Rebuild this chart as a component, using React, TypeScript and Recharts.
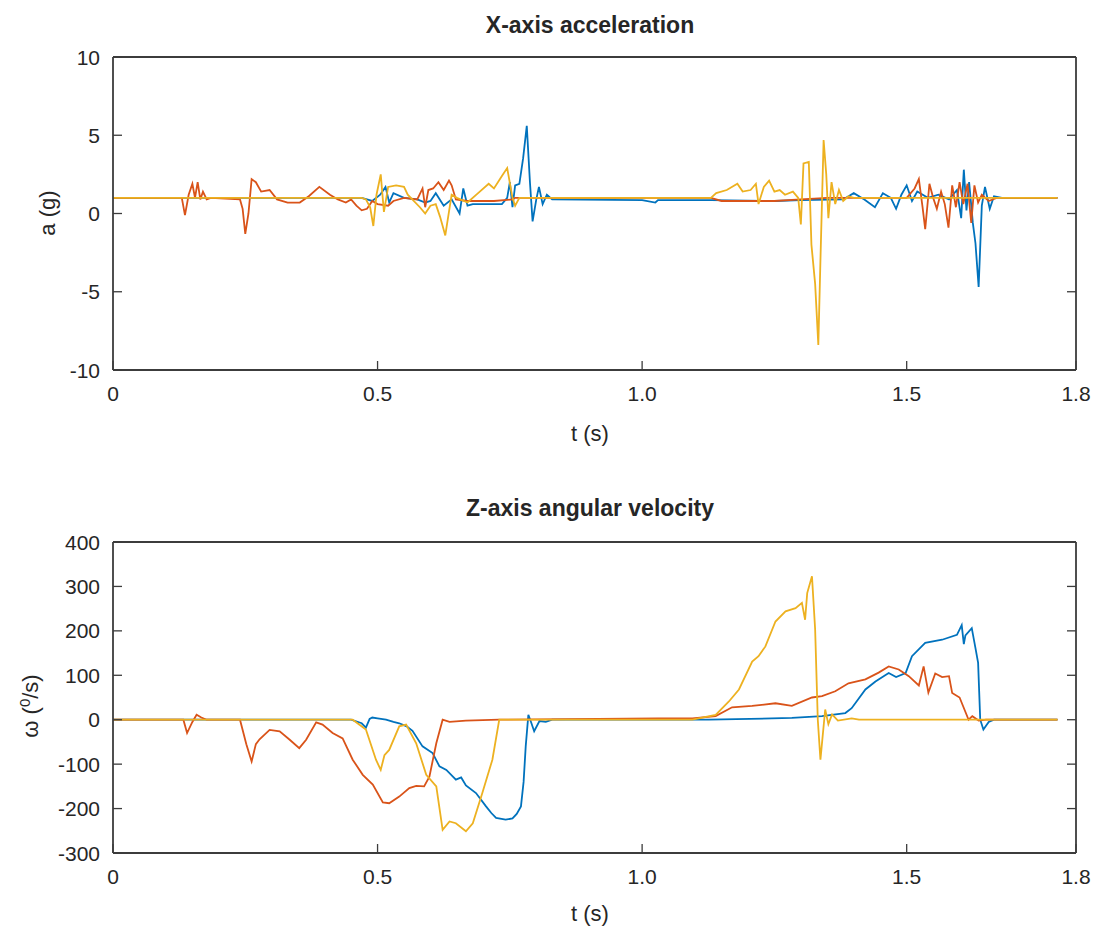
import React from 'react';
import { LineChart, Line, XAxis, YAxis } from 'recharts';

const BLUE = '#0072BD';
const ORANGE = '#D95319';
const YELLOW = '#EDB120';
const INK = '#262626';
const FRAME = '#3c3c3c';
const FONT = '"Liberation Sans", Arial, Helvetica, sans-serif';

// shared time axis
const timeTicks = [0, 0.5, 1.0, 1.5, 1.82];
const accTicks = [-10, -5, 0, 5, 10];
const gyroTicks = [-300, -200, -100, 0, 100, 200, 300, 400];

// X-axis acceleration, a (g)
const accBlueT = [0, 0.47, 0.49, 0.505, 0.515, 0.522, 0.53, 0.55, 0.575, 0.59, 0.6, 0.61, 0.625, 0.64, 0.655, 0.662, 0.67, 0.68, 0.7, 0.72, 0.735, 0.745, 0.75, 0.755, 0.76, 0.768, 0.775, 0.782, 0.788, 0.793, 0.8, 0.805, 0.812, 0.82, 0.83, 1.0, 1.025, 1.03, 1.13, 1.25, 1.3, 1.38, 1.4, 1.42, 1.44, 1.455, 1.47, 1.48, 1.49, 1.5, 1.51, 1.52, 1.54, 1.56, 1.58, 1.595, 1.603, 1.608, 1.613, 1.618, 1.625, 1.63, 1.636, 1.642, 1.648, 1.657, 1.665, 1.68, 1.785];
const accBlueV = [1.0, 1.0, 0.8, 1.2, 1.7, 0.7, 1.3, 1.0, 0.9, 0.7, 0.8, 1.3, 0.5, 0.9, 0.0, 1.6, 0.5, 0.6, 0.6, 0.6, 0.6, 1.0, 2.0, 0.4, 1.8, 1.9, 3.5, 5.6, 2.0, -0.5, 0.9, 1.7, 0.6, 1.2, 0.9, 0.85, 0.7, 0.85, 0.85, 0.8, 0.85, 0.9, 1.3, 0.9, 0.4, 1.3, 1.0, 0.3, 1.2, 1.8, 0.8, 1.4, 1.0, 1.2, 0.9, 1.5, -0.3, 2.8, 0.2, 2.0, -0.6, -1.9, -4.7, 0.5, 1.7, 0.3, 1.1, 1.0, 1.0];

const accOrangeT = [0, 0.13, 0.136, 0.143, 0.15, 0.155, 0.16, 0.165, 0.17, 0.177, 0.185, 0.24, 0.245, 0.25, 0.256, 0.262, 0.27, 0.28, 0.296, 0.31, 0.33, 0.353, 0.37, 0.39, 0.41, 0.425, 0.44, 0.45, 0.46, 0.47, 0.48, 0.49, 0.5, 0.52, 0.53, 0.55, 0.575, 0.585, 0.59, 0.596, 0.605, 0.615, 0.625, 0.635, 0.64, 0.648, 0.67, 0.72, 0.755, 0.76, 1.13, 1.15, 1.2, 1.25, 1.3, 1.35, 1.5, 1.515, 1.523, 1.53, 1.535, 1.543, 1.55, 1.557, 1.565, 1.572, 1.579, 1.586, 1.593, 1.6, 1.607, 1.615, 1.622, 1.628, 1.635, 1.642, 1.655, 1.67, 1.785];
const accOrangeV = [1.0, 1.0, -0.1, 1.2, 1.9, 1.0, 2.0, 0.9, 1.4, 0.9, 1.0, 0.9, 0.3, -1.3, 0.0, 2.2, 2.0, 1.4, 1.5, 0.9, 0.7, 0.7, 1.1, 1.7, 1.2, 0.9, 0.7, 0.9, 0.5, 0.2, 0.3, 0.8, 0.6, 0.5, 0.8, 1.0, 0.9, 1.6, 0.4, 1.5, 1.6, 2.0, 1.5, 2.1, 1.8, 0.9, 0.8, 0.8, 0.9, 1.0, 1.0, 0.8, 0.8, 0.8, 0.9, 1.0, 1.0, 1.6, 2.2, 0.4, -1.0, 1.9, 1.0, 0.3, 1.4, 0.6, -0.9, 1.8, 0.4, 2.0, 0.6, 1.9, -0.6, 1.8, 0.7, 1.2, 0.8, 1.0, 1.0];

const accYellowT = [0, 0.47, 0.478, 0.486, 0.492, 0.498, 0.506, 0.512, 0.52, 0.535, 0.55, 0.557, 0.58, 0.59, 0.6, 0.61, 0.618, 0.628, 0.64, 0.65, 0.67, 0.69, 0.71, 0.72, 0.735, 0.745, 0.755, 0.76, 0.768, 1.13, 1.14, 1.16, 1.18, 1.19, 1.205, 1.215, 1.22, 1.23, 1.24, 1.25, 1.26, 1.27, 1.285, 1.295, 1.3, 1.305, 1.315, 1.32, 1.327, 1.333, 1.337, 1.343, 1.348, 1.352, 1.358, 1.365, 1.372, 1.38, 1.39, 1.4, 1.785];
const accYellowV = [1.0, 1.0, 0.9, 0.4, -0.8, 1.2, 2.5, 0.1, 1.7, 1.8, 1.7, 1.2, 0.4, 0.0, 0.5, 0.6, -0.2, -1.4, 1.2, 1.0, 0.7, 1.3, 1.9, 1.6, 2.4, 2.9, 1.0, 0.5, 1.0, 1.0, 1.3, 1.5, 1.9, 1.4, 1.5, 1.9, 0.6, 1.7, 2.1, 1.4, 1.5, 1.2, 1.4, 1.0, -0.7, 3.2, 3.3, -2.0, -4.5, -8.4, -3.0, 4.7, 2.5, -0.3, 2.0, 0.6, 1.5, 0.8, 1.1, 1.0, 1.0];

// Z-axis angular velocity, w (deg/s)
const gyroBlueT = [0, 0.45, 0.47, 0.478, 0.485, 0.49, 0.5, 0.516, 0.53, 0.541, 0.555, 0.566, 0.585, 0.604, 0.617, 0.63, 0.648, 0.658, 0.667, 0.686, 0.705, 0.715, 0.724, 0.742, 0.755, 0.763, 0.771, 0.776, 0.78, 0.785, 0.79, 0.796, 0.806, 0.818, 0.83, 1.126, 1.283, 1.34, 1.384, 1.396, 1.422, 1.441, 1.466, 1.48, 1.498, 1.51, 1.535, 1.567, 1.595, 1.604, 1.608, 1.611, 1.623, 1.63, 1.635, 1.639, 1.645, 1.655, 1.665, 1.785];
const gyroBlueV = [0, 0, -8, -18, 2, 5, 3, 0, -5, -8, -15, -25, -60, -75, -105, -113, -135, -130, -148, -165, -195, -210, -221, -225, -222, -212, -195, -140, -60, 11, -5, -26, -3, -5, 0, 0, 4, 8, 15, 26, 68, 86, 105, 96, 105, 143, 173, 180, 191, 213, 170, 190, 206, 161, 128, 0, -22, -5, 0, 0];

const gyroOrangeT = [0, 0.133, 0.14, 0.15, 0.158, 0.167, 0.177, 0.24, 0.252, 0.262, 0.27, 0.277, 0.296, 0.315, 0.334, 0.352, 0.365, 0.384, 0.396, 0.415, 0.434, 0.453, 0.472, 0.491, 0.51, 0.522, 0.541, 0.56, 0.573, 0.588, 0.598, 0.611, 0.623, 0.636, 0.667, 0.73, 1.03, 1.095, 1.139, 1.17, 1.208, 1.252, 1.283, 1.321, 1.34, 1.365, 1.39, 1.422, 1.447, 1.466, 1.485, 1.504, 1.523, 1.532, 1.541, 1.554, 1.567, 1.58, 1.586, 1.6, 1.617, 1.624, 1.636, 1.65, 1.785];
const gyroOrangeV = [0, 0, -30, -5, 11, 5, 0, 0, -55, -94, -55, -44, -23, -26, -45, -64, -45, -6, -11, -30, -42, -90, -124, -146, -186, -188, -173, -154, -149, -150, -128, -53, 0, -5, -2, 0, 3, 3, 8, 28, 31, 37, 31, 50, 53, 64, 82, 91, 106, 120, 113, 98, 77, 120, 61, 104, 96, 98, 60, 50, 0, 8, -2, 0, 0];

const gyroYellowT = [0, 0.453, 0.478, 0.497, 0.506, 0.513, 0.522, 0.541, 0.554, 0.573, 0.592, 0.611, 0.623, 0.636, 0.648, 0.667, 0.68, 0.698, 0.717, 0.73, 1.095, 1.139, 1.164, 1.183, 1.208, 1.22, 1.233, 1.252, 1.271, 1.29, 1.302, 1.308, 1.312, 1.321, 1.327, 1.332, 1.337, 1.346, 1.352, 1.359, 1.37, 1.396, 1.41, 1.785];
const gyroYellowV = [0, 0, -22, -90, -113, -80, -68, -15, -11, -53, -124, -150, -248, -229, -233, -251, -233, -165, -90, 0, 0, 11, 41, 68, 131, 143, 165, 221, 244, 251, 263, 225, 285, 323, 203, 0, -90, 23, -10, 12, -2, 3, 0, 0];

const zip = (t: number[], v: number[]) => t.map((x, i) => ({ t: x, v: v[i] }));

const TICK_LEN = 9;
const X_GAP = 15;
const Y_GAP = 13;
const FS = 21;

const fmtTime = (v: number) => (v === 0 ? '0' : v.toFixed(1));

// bottom axis: label below, tick pointing up into the box
const BottomTick = (props: any) => {
  const { x, y, payload } = props;
  const axisY = y - X_GAP;
  return (
    <g>
      <line x1={x} x2={x} y1={axisY} y2={axisY - TICK_LEN} stroke={FRAME} strokeWidth={1.3} />
      <text x={x} y={y} dy="0.75em" textAnchor="middle" fill={INK} fontSize={FS} fontFamily={FONT}>
        {fmtTime(payload.value)}
      </text>
    </g>
  );
};

const TopTick = (props: any) => {
  const { x, y } = props;
  return <line x1={x} x2={x} y1={y} y2={y + TICK_LEN} stroke={FRAME} strokeWidth={1.3} />;
};

const LeftTick = (props: any) => {
  const { x, y, payload } = props;
  const axisX = x + Y_GAP;
  return (
    <g>
      <line x1={axisX} x2={axisX + TICK_LEN} y1={y} y2={y} stroke={FRAME} strokeWidth={1.3} />
      <text x={x} y={y} dy="0.36em" textAnchor="end" fill={INK} fontSize={FS} fontFamily={FONT}>
        {payload.value}
      </text>
    </g>
  );
};

const RightTick = (props: any) => {
  const { x, y } = props;
  return <line x1={x} x2={x - TICK_LEN} y1={y} y2={y} stroke={FRAME} strokeWidth={1.3} />;
};

type Series = { t: number[]; v: number[]; color: string };

interface PanelProps {
  top: number;
  margin: { top: number; right: number; bottom: number; left: number };
  domain: [number, number];
  ticks: number[];
  series: Series[];
}

const frame = { stroke: FRAME, strokeWidth: 1.8 };

const Panel: React.FC<PanelProps> = ({ top, margin, domain, ticks, series }) => (
  <div style={{ position: 'absolute', left: 0, top }}>
    <LineChart width={1095} height={460} margin={margin}>
      <XAxis
        dataKey="t"
        type="number"
        domain={[0, 1.82]}
        ticks={timeTicks}
        allowDataOverflow
        height={1}
        tickSize={0}
        tickMargin={X_GAP}
        tickLine={false}
        tick={<BottomTick />}
        axisLine={frame}
        interval={0}
      />
      <XAxis
        xAxisId="top"
        orientation="top"
        type="number"
        domain={[0, 1.82]}
        ticks={[0.5, 1.0, 1.5]}
        allowDataOverflow
        height={1}
        tickSize={0}
        tickMargin={0}
        tickLine={false}
        tick={<TopTick />}
        axisLine={frame}
        interval={0}
      />
      <YAxis
        type="number"
        domain={domain}
        ticks={ticks}
        allowDataOverflow
        width={1}
        tickSize={0}
        tickMargin={Y_GAP}
        tickLine={false}
        tick={<LeftTick />}
        axisLine={frame}
        interval={0}
      />
      <YAxis
        yAxisId="r"
        orientation="right"
        type="number"
        domain={domain}
        ticks={ticks.slice(1, -1)}
        allowDataOverflow
        width={1}
        tickSize={0}
        tickMargin={0}
        tickLine={false}
        tick={<RightTick />}
        axisLine={frame}
        interval={0}
      />
      {series.map((s, i) => (
        <Line
          key={i}
          data={zip(s.t, s.v)}
          dataKey="v"
          type="linear"
          stroke={s.color}
          strokeWidth={1.8}
          dot={false}
          activeDot={false}
          isAnimationActive={false}
        />
      ))}
    </LineChart>
  </div>
);

const textStyle = { fontFamily: FONT, fill: INK } as const;

export default function App() {
  return (
    <div style={{ position: 'absolute', left: 0, top: 0, width: 1095, height: 930, background: '#fff' }}>
      <Panel
        top={0}
        margin={{ top: 56, right: 18, bottom: 89, left: 112 }}
        domain={[-10, 10]}
        ticks={accTicks}
        series={[
          { t: accBlueT, v: accBlueV, color: BLUE },
          { t: accOrangeT, v: accOrangeV, color: ORANGE },
          { t: accYellowT, v: accYellowV, color: YELLOW },
        ]}
      />
      <Panel
        top={470}
        margin={{ top: 71, right: 18, bottom: 76, left: 112 }}
        domain={[-300, 400]}
        ticks={gyroTicks}
        series={[
          { t: gyroBlueT, v: gyroBlueV, color: BLUE },
          { t: gyroOrangeT, v: gyroOrangeV, color: ORANGE },
          { t: gyroYellowT, v: gyroYellowV, color: YELLOW },
        ]}
      />
      <svg width={1095} height={930} style={{ position: 'absolute', left: 0, top: 0, pointerEvents: 'none' }}>
        <text x={590} y={33} textAnchor="middle" fontSize={23} fontWeight="bold" {...textStyle}>X-axis acceleration</text>
        <text x={590} y={441} textAnchor="middle" fontSize={22} {...textStyle}>t (s)</text>
        <text transform="translate(55,213) rotate(-90)" textAnchor="middle" fontSize={22} {...textStyle}>a (g)</text>
        <text x={590} y={516} textAnchor="middle" fontSize={23} fontWeight="bold" {...textStyle}>Z-axis angular velocity</text>
        <text x={590} y={921} textAnchor="middle" fontSize={22} {...textStyle}>t (s)</text>
        <text transform="translate(38,706) rotate(-90)" textAnchor="middle" fontSize={22} {...textStyle}>
          ω (<tspan dy={-8} fontSize={15}>0</tspan><tspan dy={8}>/s)</tspan>
        </text>
      </svg>
    </div>
  );
}
